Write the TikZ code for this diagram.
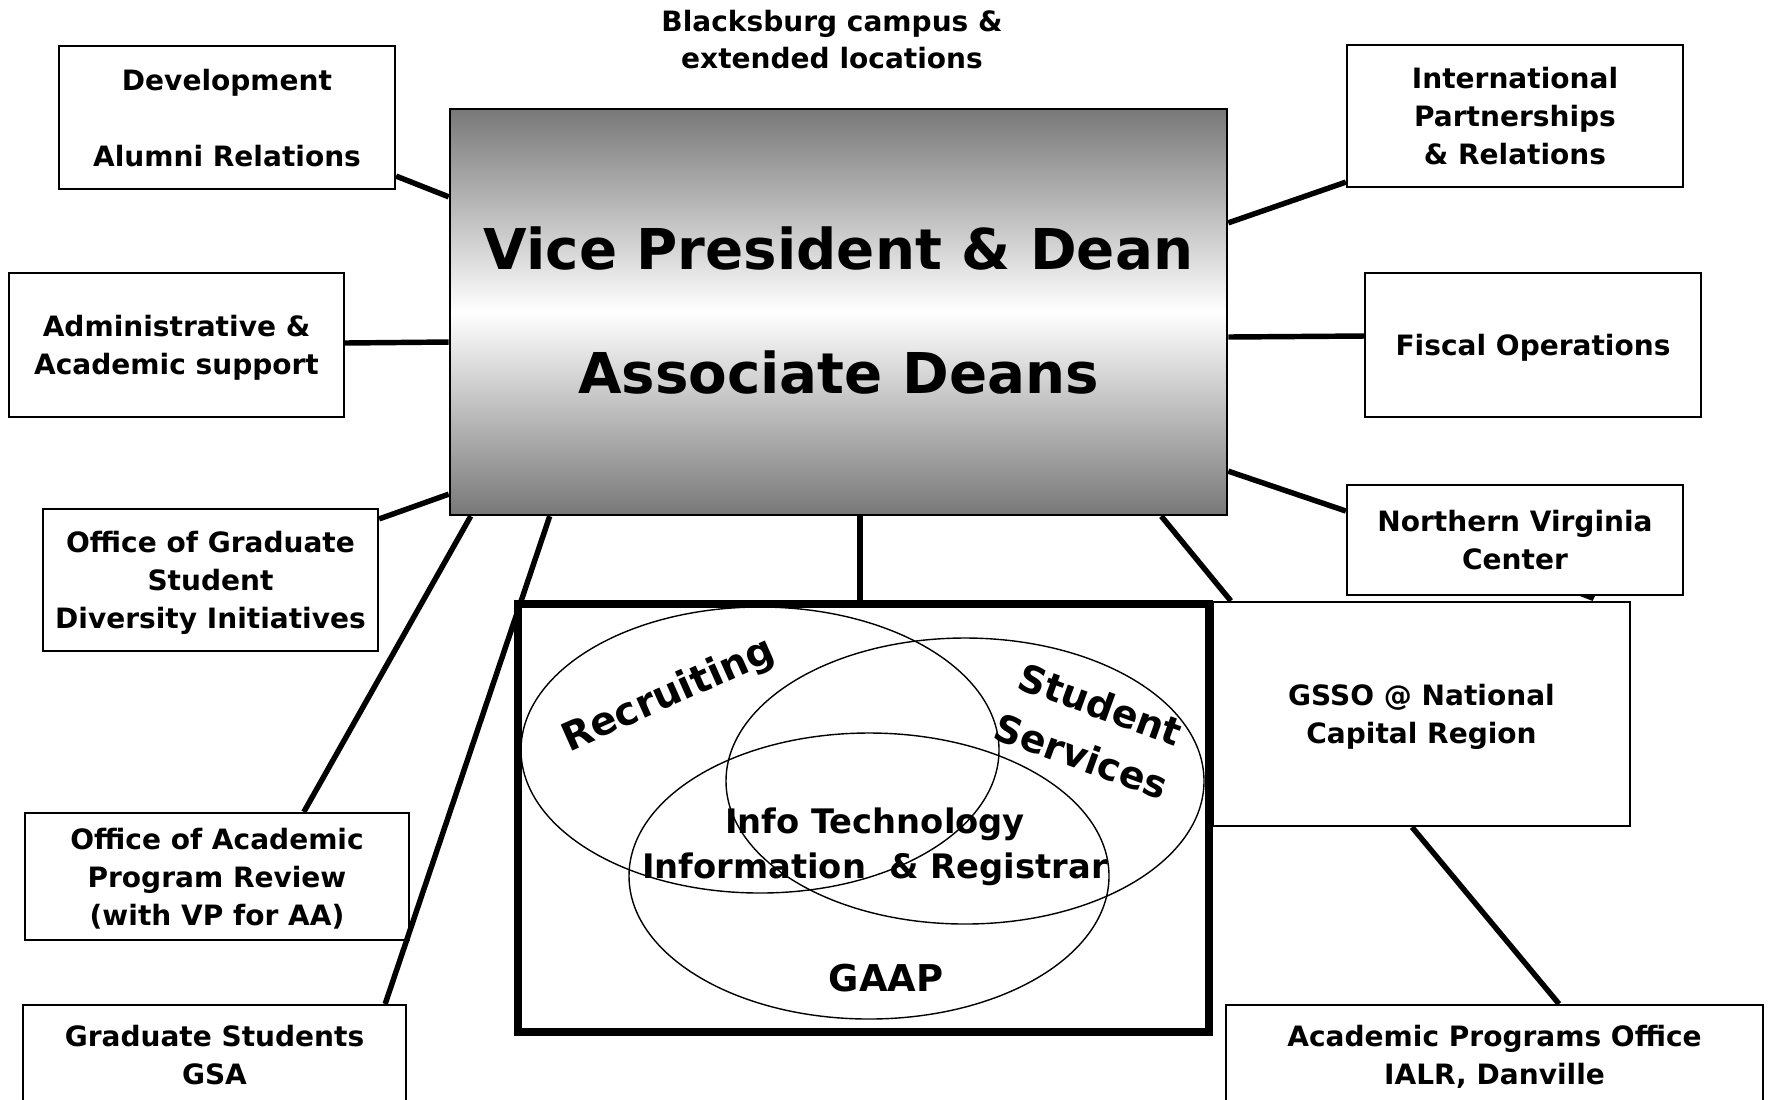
\documentclass[tikz,border=0pt]{standalone}
\usepackage{fontspec}
\setmainfont{DejaVu Sans}
\usetikzlibrary{calc}
\begin{document}
\begin{tikzpicture}[x=0.01cm,y=-0.01cm,
  box/.style={draw=black, line width=0.6pt, fill=white, align=center, inner sep=0pt, text depth=0pt,
    font={\fontsize{7.97}{10.8}\selectfont\bfseries}},
  conn/.style={line width=1.55pt, line cap=butt},
  venntxt/.style={align=center, inner sep=0pt},
  ell/.style={line width=0.4pt}]
\useasboundingbox (0,0) rectangle (1770,1099);
\clip (0,0) rectangle (1770,1099);
\fill[white] (0,0) rectangle (1770,1099);

% title
\node[align=center, inner sep=0pt, font={\fontsize{7.97}{10.5}\selectfont\bfseries}] (blk) at (832,39.5)
  {Blacksburg campus \&\\extended locations};

% central box
\node[draw=black, line width=0.6pt, top color=black!53, bottom color=black!53, middle color=white,
  minimum width=7.77cm, minimum height=4.06cm, inner sep=0pt, align=center, text depth=1.3pt,
  font={\fontsize{16}{35.3}\selectfont\bfseries}] (vp) at (838.5,312)
  {Vice President \& Dean\\Associate Deans};

% left boxes
\node[box, minimum width=3.36cm, minimum height=1.43cm] (dev) at (227,117.5)
  {Development\\[10.8pt]Alumni Relations};
\node[box, minimum width=3.35cm, minimum height=1.44cm] (adm) at (176.5,345)
  {Administrative \&\\Academic support};
\node[box, minimum width=3.35cm, minimum height=1.42cm] (ogs) at (210.5,580)
  {Office of Graduate\\Student\\Diversity Initiatives};
\node[box, minimum width=3.84cm, minimum height=1.27cm] (oap) at (217,876.5)
  {Office of Academic\\Program Review\\(with VP for AA)};
\node[box, minimum width=3.83cm, minimum height=1.00cm] (gsa) at (214.5,1055)
  {Graduate Students\\GSA};

% right boxes
\node[box, minimum width=3.36cm, minimum height=1.42cm] (ipr) at (1515,116)
  {International\\Partnerships\\\& Relations};
\node[box, minimum width=3.36cm, minimum height=1.44cm] (fis) at (1533,345)
  {Fiscal Operations};
\node[box, minimum width=3.36cm, minimum height=1.10cm] (nva) at (1515,540)
  {Northern Virginia\\Center};
\node[box, minimum width=4.17cm, minimum height=2.24cm] (gsso) at (1421.5,714)
  {GSSO @ National\\Capital Region};
\node[box, minimum width=5.37cm, minimum height=1.00cm] (apo) at (1494.5,1055)
  {Academic Programs Office\\IALR, Danville};

% venn container
\node[draw=black, line width=2.2pt, minimum width=6.91cm, minimum height=4.28cm, inner sep=0pt] (venn) at (863.5,818) {};
\draw[ell] (760,750) ellipse [x radius=239, y radius=143];
\draw[ell] (965,781) ellipse [x radius=239, y radius=143];
\draw[ell] (869,876) ellipse [x radius=240, y radius=143];

\node[venntxt, rotate=24, font={\fontsize{11.1}{13}\selectfont\bfseries}] (rec) at (669,696) {Recruiting};
\node[venntxt, rotate=-20, font={\fontsize{10.8}{15.6}\selectfont\bfseries}] (ss) at (1091,730) {Student\\Services};
\node[venntxt, font={\fontsize{9.6}{12.8}\selectfont\bfseries}] (it) at (875,847) {Info Technology\\Information\ \ \& Registrar};
\node[venntxt, font={\fontsize{10.5}{12}\selectfont\bfseries}] (gaap) at (886,978) {GAAP};

% connectors
\draw[conn] ($(dev.south east)+(0,-14)$) -- ($(vp.north west)+(0,89)$);
\draw[conn] ($(adm.east)+(0,-2)$) -- ($(vp.west)+(0,30)$);
\draw[conn] ($(ogs.north east)+(0,11)$) -- ($(vp.south west)+(0,-22)$);
\draw[conn] ($(oap.north west)+(280,0)$) -- ($(vp.south west)+(22,0)$);
\draw[conn] ($(gsa.north east)+(-22,0)$) -- ($(vp.south west)+(101,0)$);
\draw[conn] ($(vp.south)+(21.5,0)$) -- ($(venn.north)+(-3.5,0)$);
\draw[conn] ($(vp.north east)+(0,115)$) -- ($(ipr.south west)+(0,-6)$);
\draw[conn] ($(vp.east)+(0,25)$) -- ($(fis.west)+(0,-9)$);
\draw[conn] ($(vp.south east)+(0,-45)$) -- ($(nva.west)+(0,-29)$);
\draw[conn] ($(vp.south east)+(-67,0)$) -- ($(gsso.north west)+(19,0)$);
\draw[conn] ($(gsso.south)+(-9.5,0)$) -- ($(apo.north)+(64.5,0)$);
\fill ($(nva.south)+(65,0)$) -- ($(nva.south)+(80,0)$) -- ($(gsso.north)+(171,0)$) -- cycle;
\end{tikzpicture}
\end{document}
